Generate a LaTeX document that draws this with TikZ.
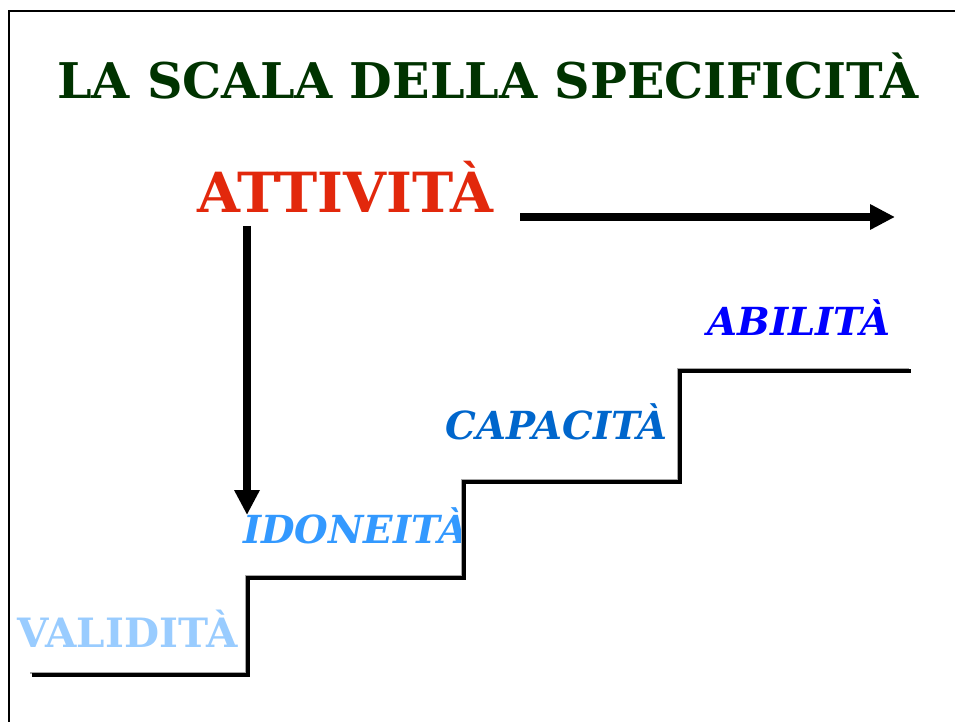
\documentclass[tikz,border=0pt]{standalone}
\usepackage{fontspec}
\setmainfont{DejaVu Serif}
\usetikzlibrary{positioning, arrows.meta}

\definecolor{titlegreen}{RGB}{0,51,0}
\definecolor{attred}{RGB}{226,40,12}
\definecolor{abiblue}{RGB}{0,0,255}
\definecolor{capblue}{RGB}{0,102,204}
\definecolor{idoblue}{RGB}{51,153,255}
\definecolor{valblue}{RGB}{153,204,255}

\begin{document}
\begin{tikzpicture}[x=0.02cm, y=-0.02cm]
	\tikzstyle{word}=[inner sep=0pt, anchor=base west, font={\fontsize{31.5}{36}\selectfont\bfseries}]
	\tikzstyle{stepword}=[inner sep=0pt, anchor=base west, font={\fontsize{22}{26}\selectfont\bfseries\itshape}]
	\tikzstyle{bigarrow}=[line width=4pt, -{Triangle[length=0.5cm, width=0.48cm]}]
	\tikzstyle{stairs}=[line width=2.2pt, line join=miter]
	\tikzstyle{stairshade}=[line width=1.2pt, gray!70, line join=miter, transform canvas={xshift=-0.04cm, yshift=0.04cm}]

	\useasboundingbox (0,0) rectangle (955,722);
	\draw[line width=1.2pt] (9,722) -- (9,11) -- (955,11);

	% words
	\node[word, text=titlegreen, font={\fontsize{28}{34}\selectfont\bfseries}] (title) at (57,99) {LA SCALA DELLA SPECIFICITÀ};
	\node[word, text=attred] (attivita) at (197,213) {ATTIVITÀ};
	\node[stepword, text=abiblue] (abilita) at (707,336) {ABILITÀ};
	\node[stepword, text=capblue] (capacita) at (445,439) {CAPACITÀ};
	\node[stepword, text=idoblue] (idoneita) at (243,543) {IDONEITÀ};
	\node[stepword, text=valblue, font={\fontsize{23}{28}\selectfont\bfseries}] (validita) at (17,647) {VALIDITÀ};

	% arrows
	\coordinate (rstart) at (520,217);
	\coordinate (rend) at (895,217);
	\coordinate (dstart) at (247,226);
	\coordinate (dend) at (247,515);
	\draw[bigarrow] (rstart) -- (rend);
	\draw[bigarrow] (dstart) -- (dend);

	% stairs
	\coordinate (s0) at (32,675);
	\coordinate (s1) at (248,675);
	\coordinate (s2) at (248,578);
	\coordinate (s3) at (464,578);
	\coordinate (s4) at (464,482);
	\coordinate (s5) at (680,482);
	\coordinate (s6) at (680,371);
	\coordinate (s7) at (911,371);
	\draw[stairshade] (s0) -- (s1) -- (s2) -- (s3) -- (s4) -- (s5) -- (s6) -- (s7);
	\draw[stairs] (s0) -- (s1) -- (s2) -- (s3) -- (s4) -- (s5) -- (s6) -- (s7);
\end{tikzpicture}
\end{document}
